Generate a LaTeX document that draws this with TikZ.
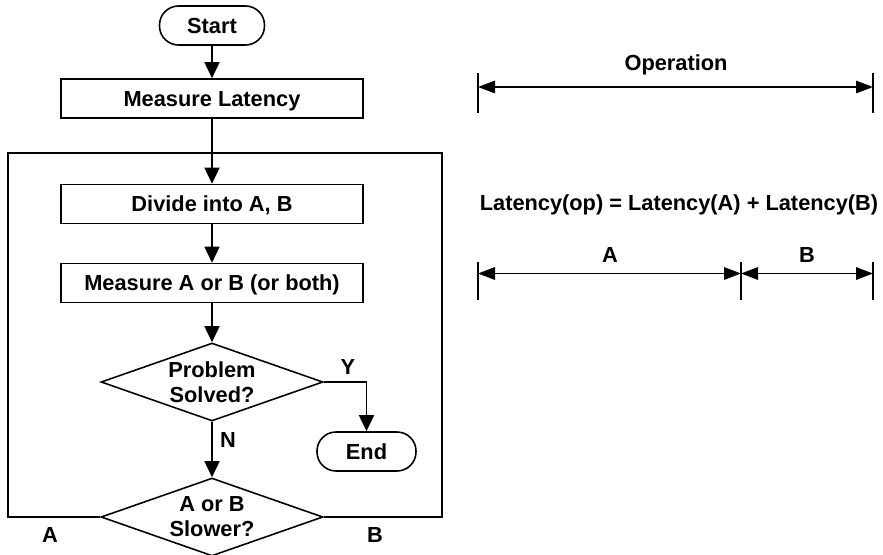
\documentclass[tikz,border=0pt]{standalone}
\usepackage{fontspec}
\setmainfont{Liberation Sans}
\usepackage{tikz}
\usetikzlibrary{arrows.meta,shapes}
\tikzstyle{process}=[rectangle,draw,line width=0.9pt,minimum width=6.04cm,minimum height=0.78cm,inner sep=0pt,text height=8.9pt,text depth=0pt]
\tikzstyle{terminal}=[rectangle,draw,line width=0.9pt,rounded corners=0.38cm,minimum height=0.78cm,inner sep=0pt,text height=8.9pt,text depth=0pt]
\tikzstyle{decision}=[diamond,draw,line width=0.9pt,aspect=2.85,minimum width=4.44cm,minimum height=1.56cm,inner sep=0pt,align=center,font=\fontsize{12.4}{14.2}\selectfont\bfseries]
\tikzstyle{edge} = [draw,line width=0.9pt,-{Triangle[length=0.32cm,width=0.3cm]}]
\tikzstyle{loopline} = [draw,line width=0.9pt]
\tikzstyle{dimline} = [draw,line width=0.9pt,{Triangle[length=0.34cm,width=0.25cm]}-{Triangle[length=0.34cm,width=0.25cm]}]
\tikzstyle{dimtick} = [draw,line width=0.9pt]
\tikzstyle{tag} = [inner sep=0pt,text height=8.9pt,text depth=0pt]

\begin{document}
\begin{tikzpicture}[font=\fontsize{12.4}{14.2}\selectfont\bfseries]
    \useasboundingbox (0,0) rectangle (17.66,-11.08);

    % Flow chart
    \node[terminal,minimum width=2.1cm] (start) at (4.24,-0.51) {Start};
    \foreach \pos/ \name/ \txt in {{(4.24,-1.97)/measure/Measure Latency}, {(4.24,-4.08)/divide/{Divide into A, B}}, {(4.24,-5.66)/measureab/{Measure A or B (or both)}}}
        \node[process] (\name) at \pos {\txt};
    \node[decision] (solved) at (4.24,-7.64) {Problem\\Solved?};
    \node[decision] (slower) at (4.24,-10.34) {A or B\\Slower?};
    \node[terminal,minimum width=1.98cm] (stop) at (7.33,-9.03) {End};

    % Connect steps with arrows
    \foreach \source/ \dest in {start/measure, measure/divide, divide/measureab, measureab/solved, solved/slower}
        \path[edge] (\source) -- (\dest);
    \path[edge] (solved.east) -| (stop.north);

    % Loop back
    \coordinate (loopNW) at (0.16,-3.06);
    \coordinate (loopNE) at (8.84,-3.06);
    \path[loopline] (slower.west) -| (loopNW) -- (loopNE) |- (slower.east);

    \node[tag] (ylabel) at (6.96,-7.34) {Y};
    \node[tag] (nlabel) at (4.56,-8.80) {N};
    \node[tag] (alabel) at (1.00,-10.70) {A};
    \node[tag] (blabel) at (7.50,-10.70) {B};

    % Latency split
    \foreach \name/ \x in {opL/9.56, opR/17.46}
    {
        \coordinate (\name top) at (\x,-1.46);
        \coordinate (\name) at (\x,-1.74);
        \coordinate (\name bot) at (\x,-2.26);
        \path[dimtick] (\name top) -- (\name bot);
    }
    \foreach \name/ \x in {abL/9.56, abM/14.82, abR/17.46}
    {
        \coordinate (\name top) at (\x,-5.24);
        \coordinate (\name) at (\x,-5.47);
        \coordinate (\name bot) at (\x,-6.00);
        \path[dimtick] (\name top) -- (\name bot);
    }
    \path[dimline] (opL) -- (opR);
    \path[dimline] (abL) -- (abM);
    \path[dimline] (abM) -- (abR);

    \node[tag] (oplabel) at (13.52,-1.26) {Operation};
    \node[tag] (eqlabel) at (13.58,-4.06) {Latency(op) = Latency(A) + Latency(B)};
    \node[tag] (sega) at (12.20,-5.10) {A};
    \node[tag] (segb) at (16.14,-5.10) {B};
\end{tikzpicture}
\end{document}
